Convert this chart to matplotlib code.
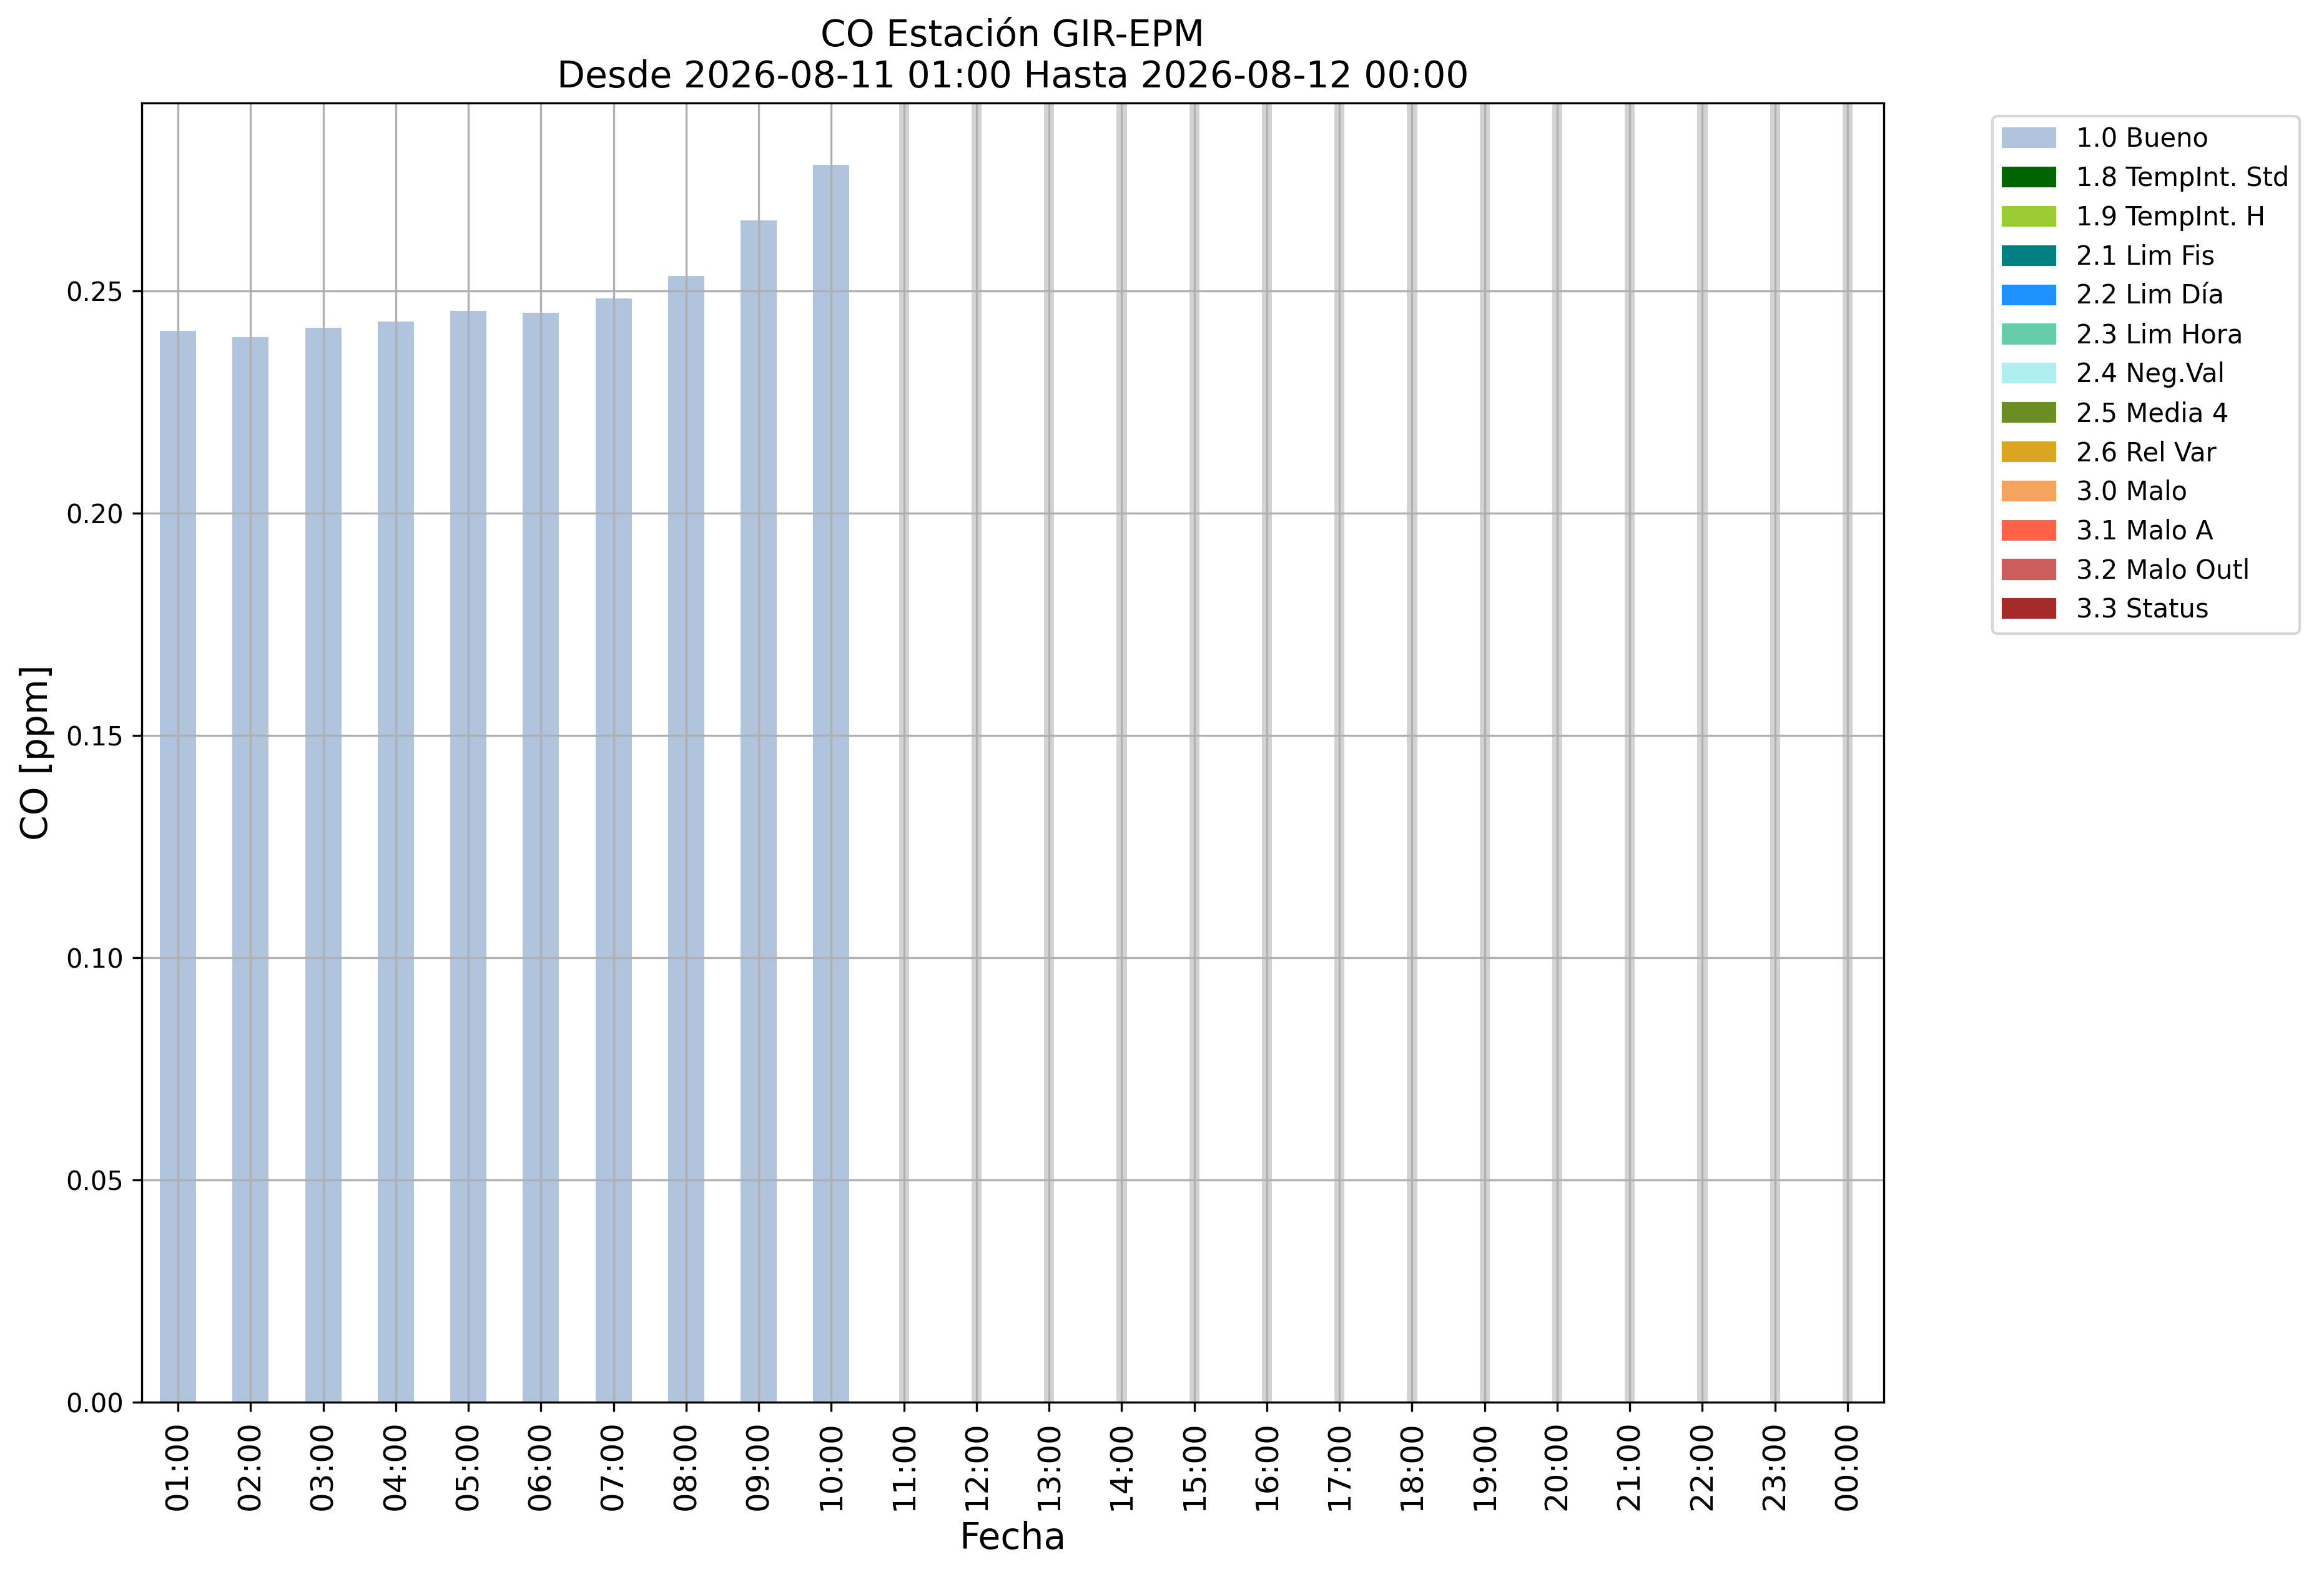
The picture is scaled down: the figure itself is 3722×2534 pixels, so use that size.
import numpy as np
import matplotlib
matplotlib.use('Agg')
import matplotlib.pyplot as plt
from matplotlib.patches import Patch

horas = ['01:00', '02:00', '03:00', '04:00', '05:00', '06:00', '07:00', '08:00',
         '09:00', '10:00', '11:00', '12:00', '13:00', '14:00', '15:00', '16:00',
         '17:00', '18:00', '19:00', '20:00', '21:00', '22:00', '23:00', '00:00']
co = [0.2410, 0.2396, 0.2417, 0.2431, 0.2456, 0.2451, 0.2483, 0.2534,
      0.2659, 0.2784] + [np.nan] * 14

flags = ['1.0 Bueno', '1.8 TempInt. Std', '1.9 TempInt. H', '2.1 Lim Fis',
         '2.2 Lim Día', '2.3 Lim Hora', '2.4 Neg.Val', '2.5 Media 4',
         '2.6 Rel Var', '3.0 Malo', '3.1 Malo A', '3.2 Malo Outl', '3.3 Status']
flag_colors = ['lightsteelblue', 'darkgreen', 'yellowgreen', 'teal',
               'dodgerblue', 'mediumaquamarine', 'paleturquoise', 'olivedrab',
               'goldenrod', 'sandybrown', 'tomato', 'indianred', 'brown']

co = np.array(co)
x = np.arange(len(horas))
ymax = np.nanmax(co) * 1.05
faltan = np.isnan(co)

fig = plt.figure(figsize=(3722 / 300, 2534 / 300), dpi=300)
ax = fig.add_axes([0.061, 0.1137, 0.7496, 0.8212])

ax.bar(x[~faltan], co[~faltan], width=0.5, color='lightsteelblue')
# horas sin dato
ax.bar(x[faltan], np.full(faltan.sum(), ymax), width=0.14, color='lightgray')

ax.set_xlim(-0.5, len(horas) - 0.5)
ax.set_ylim(0, ymax)
ax.set_xticks(x)
ax.set_xticklabels(horas, rotation=90, fontsize=12)
ax.tick_params(axis='y', labelsize=10)
ax.grid(True)

ax.set_title('CO Estación GIR-EPM\nDesde 2026-08-11 01:00 Hasta 2026-08-12 00:00', fontsize=14)
ax.set_xlabel('Fecha', fontsize=14)
ax.set_ylabel('CO [ppm]', fontsize=14)

handles = [Patch(color=c, label=l) for c, l in zip(flag_colors, flags)]
ax.legend(handles=handles, bbox_to_anchor=(1.055, 1), loc='upper left', fontsize=10)

plt.savefig('out.png', dpi=300)
